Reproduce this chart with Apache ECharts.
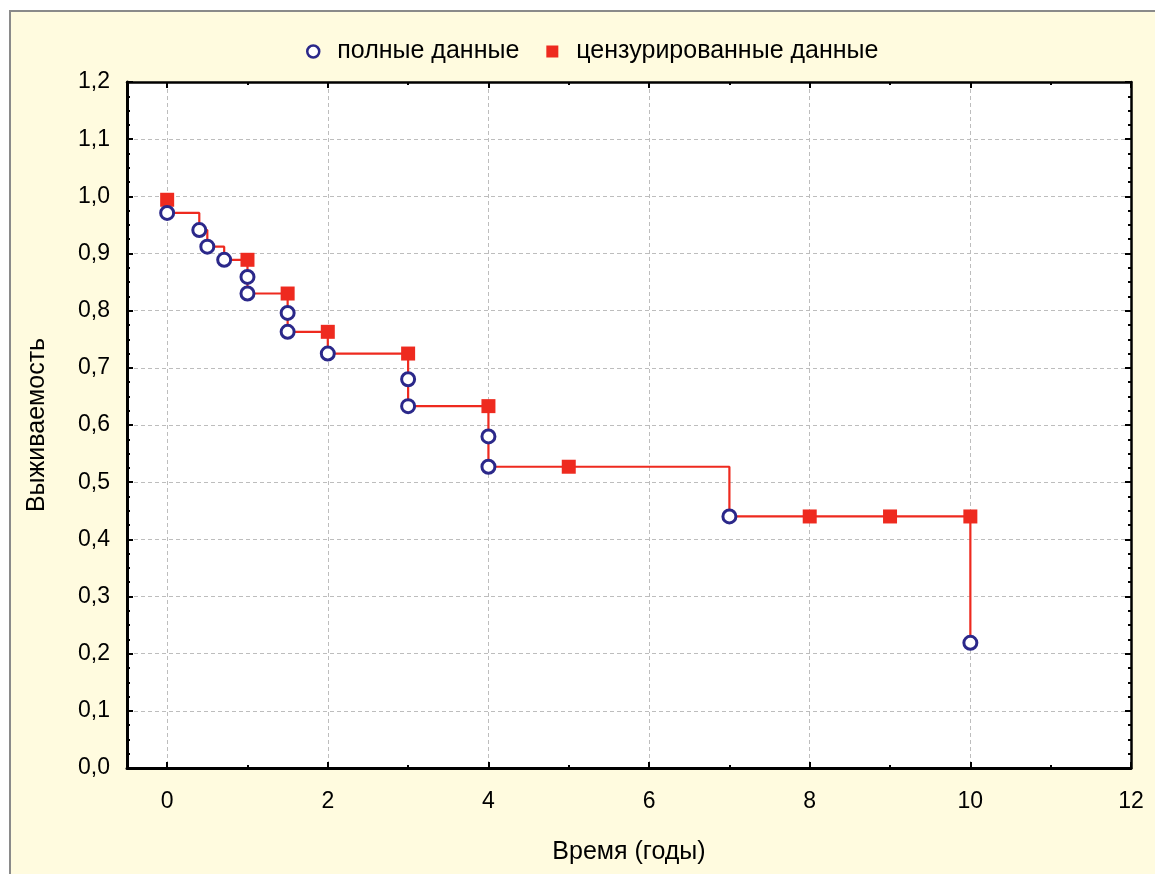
<!DOCTYPE html>
<html>
<head>
<meta charset="utf-8">
<script src="https://cdn.jsdelivr.net/npm/echarts@6/dist/echarts.min.js"></script>
<style>
  html, body { margin: 0; padding: 0; background: #ffffff; }
  #frame { position: absolute; left: 9px; top: 10px; width: 1146px; height: 864px;
           background: #fffbdf; border-left: 2px solid #8a8a8a; border-top: 2px solid #8a8a8a; box-sizing: border-box; }
  #chart { position: absolute; left: 0; top: 0; width: 1155px; height: 874px; }
</style>
</head>
<body>
<div id="frame"></div>
<div id="chart"></div>
<script>
// Kaplan–Meier estimate: complete (event) observations
const eventTimes  = [0, 0.40, 0.50, 0.71, 1, 1, 1.5, 1.5, 2, 3, 3, 4, 4, 7, 10];
const eventValues = [0.971, 0.941, 0.912, 0.889, 0.859, 0.830, 0.796, 0.763, 0.725, 0.680, 0.633, 0.580, 0.527, 0.440, 0.219];
// censored observations
const censTimes  = [0, 1, 1.5, 2, 3, 4, 5, 8, 9, 10];
const censValues = [0.994, 0.889, 0.830, 0.763, 0.725, 0.633, 0.527, 0.440, 0.440, 0.440];
// axis ticks
const xMajorTicks = [0, 2, 4, 6, 8, 10, 12];
const xMinorTicks = [1, 3, 5, 7, 9, 11];
const seriesNames = ['полные данные', 'цензурированные данные'];
const xName = 'Время (годы)';
const yName = 'Выживаемость';

const FONT = '"Liberation Sans", Arial, sans-serif';
const NAVY = '#2b288a';
const RED = '#ee2a1f';

const eventData = eventTimes.map((t, i) => [t, eventValues[i]]);
const censData = censTimes.map((t, i) => [t, censValues[i]]);

function xAxisDef(pos, ticks, len, showLine, showLabel, showSplit, lineW) {
  return {
    type: 'value', position: pos, min: -0.5, max: 12,
    axisLine: { show: showLine, onZero: false, lineStyle: { color: '#000', width: lineW } },
    axisTick: { show: true, inside: true, length: len, customValues: ticks, lineStyle: { color: '#000', width: 2 } },
    axisLabel: { show: showLabel, customValues: ticks, fontSize: 23, color: '#000', fontFamily: FONT, margin: 22 },
    splitLine: { show: showSplit, lineStyle: { color: '#bdbdbd', type: [4, 3], width: 1 } },
    minorTick: { show: false }
  };
}

const chart = echarts.init(document.getElementById('chart'));
const xAxes = [
  xAxisDef('bottom', xMajorTicks, 6, true, true, true, 3),
  xAxisDef('bottom', xMinorTicks, 3, false, false, false, 3),
  xAxisDef('top', xMajorTicks, 6, true, false, false, 2.5),
  xAxisDef('top', xMinorTicks, 3, false, false, false, 2.5)
];
xAxes[0].name = xName;
xAxes[0].nameLocation = 'middle';
xAxes[0].nameGap = 72;
xAxes[0].nameTextStyle = { fontSize: 25, color: '#000', fontFamily: FONT };

function yAxisDef(pos, showLabel, showSplit, lineW) {
  return {
    type: 'value', position: pos, min: 0, max: 1.2, interval: 0.1,
    axisLine: { show: true, onZero: false, lineStyle: { color: '#000', width: lineW } },
    axisTick: { show: true, inside: true, length: 6, lineStyle: { color: '#000', width: 2 } },
    minorTick: { show: true, splitNumber: 4, length: 3, lineStyle: { color: '#000', width: 2 } },
    axisLabel: { show: showLabel, fontSize: 23, color: '#000', fontFamily: FONT, margin: 17,
                 formatter: v => v.toFixed(1).replace('.', ',') },
    splitLine: { show: showSplit, lineStyle: { color: '#bdbdbd', type: [4, 3], width: 1 } }
  };
}
const yAxes = [yAxisDef('left', true, true, 3), yAxisDef('right', false, false, 2.5)];
yAxes[0].name = yName;
yAxes[0].nameLocation = 'middle';
yAxes[0].nameGap = 77;
yAxes[0].nameTextStyle = { fontSize: 25, color: '#000', fontFamily: FONT };

chart.setOption({
  animation: false,
  backgroundColor: 'transparent',
  grid: { left: 127, top: 82, right: 24, bottom: 106, show: true, backgroundColor: '#ffffff', borderWidth: 0 },
  legend: {
    left: 301, top: 34, itemGap: 27, itemWidth: 12, itemHeight: 12,
    textStyle: { fontSize: 25, color: '#000', fontFamily: FONT, padding: [0, 0, 0, 13] },
    data: [
      { name: seriesNames[0], icon: 'circle', itemStyle: { color: '#fff', borderColor: NAVY, borderWidth: 2.5 } },
      { name: seriesNames[1], icon: 'rect', itemStyle: { color: RED } }
    ]
  },
  xAxis: xAxes,
  yAxis: yAxes,
  series: [
    {
      type: 'line', step: 'end', data: eventData, showSymbol: false, symbol: 'none',
      xAxisIndex: 0, yAxisIndex: 0, z: 2,
      lineStyle: { color: RED, width: 2.2 }, silent: true
    },
    {
      name: seriesNames[1], type: 'scatter', data: censData, symbol: 'rect', symbolSize: 14,
      xAxisIndex: 0, yAxisIndex: 0, z: 3,
      itemStyle: { color: RED, opacity: 1 }
    },
    {
      name: seriesNames[0], type: 'scatter', data: eventData, symbol: 'circle', symbolSize: 13,
      xAxisIndex: 0, yAxisIndex: 0, z: 4,
      itemStyle: { color: '#ffffff', borderColor: NAVY, borderWidth: 3, opacity: 1 }
    }
  ]
});
</script>
</body>
</html>
